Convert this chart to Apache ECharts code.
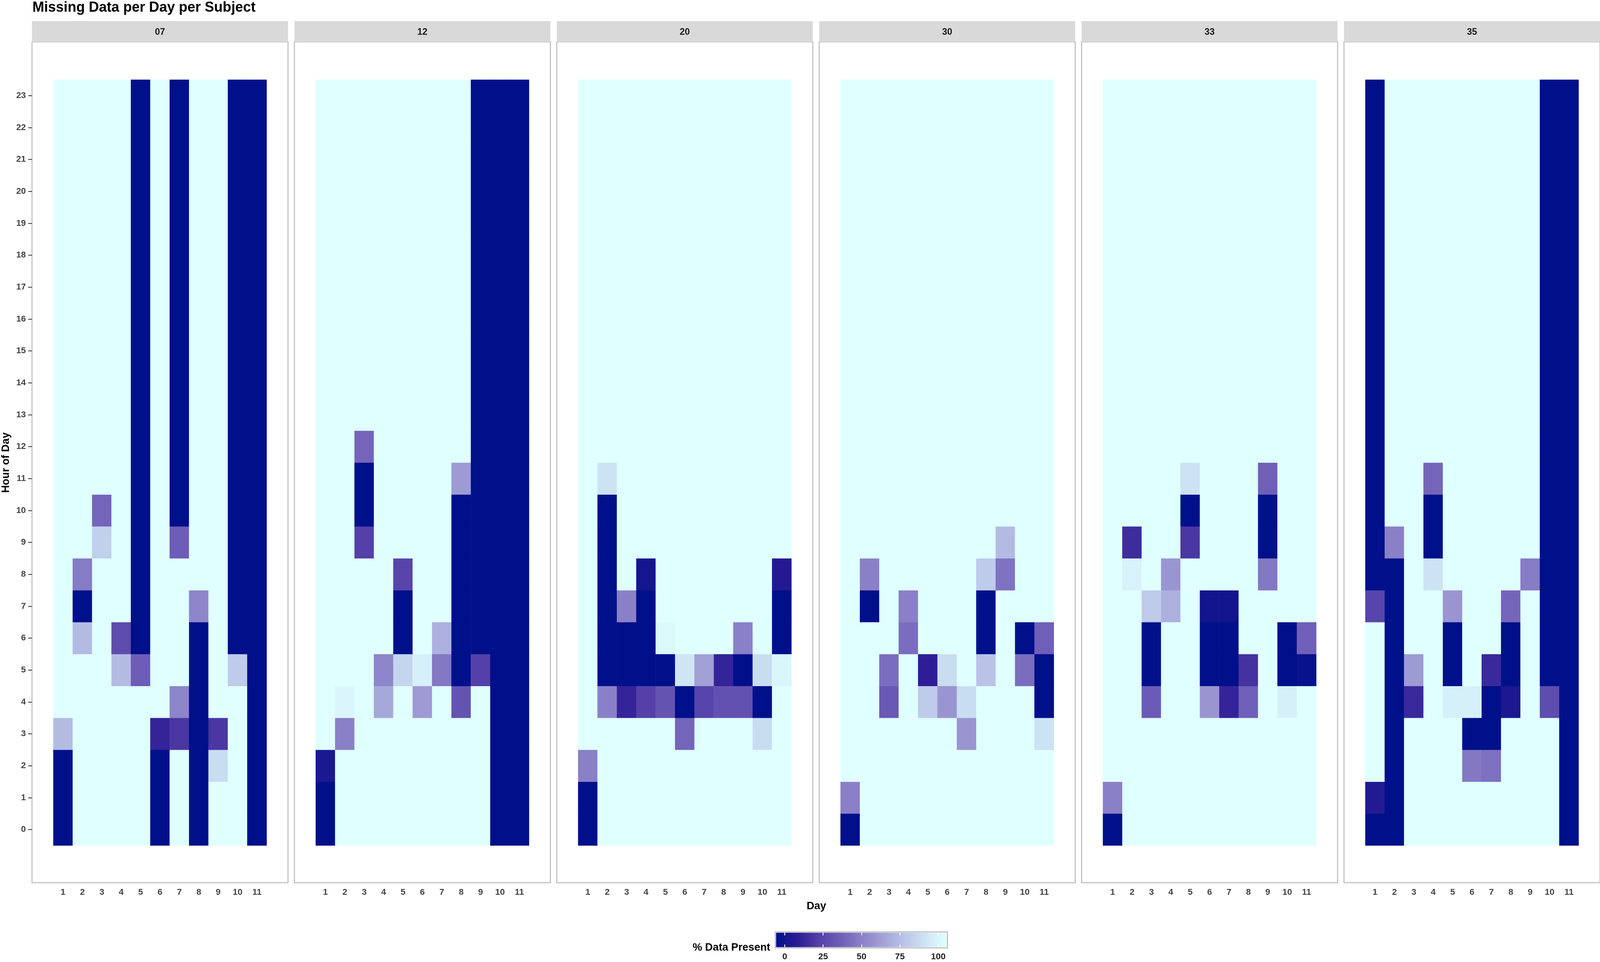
<!DOCTYPE html>
<html><head><meta charset="utf-8">
<script src="https://cdn.jsdelivr.net/npm/echarts@6/dist/echarts.min.js"></script>
<style>html,body{margin:0;padding:0;background:#fff;overflow:hidden}#c{width:100vw;height:100vh}</style>
</head><body><div id="c"></div>
<script>
const subjects = ['07','12','20','30','33','35'];
const days = ['1','2','3','4','5','6','7','8','9','10','11'];
const hours = ['0','1','2','3','4','5','6','7','8','9','10','11','12','13','14','15','16','17','18','19','20','21','22','23'];
const legendTicks = [0,25,50,75,100];

// % data present; each row is one hour (0..23), columns are days 1..11
const s07 = [
[0,100,100,100,100,0,100,0,100,100,0],
[0,100,100,100,100,0,100,0,100,100,0],
[0,100,100,100,100,0,100,0,85,100,0],
[72,100,100,100,100,15,22,0,22,100,0],
[100,100,100,100,100,100,52,0,100,100,0],
[100,100,100,72,37,100,100,0,100,78,0],
[100,72,100,30,0,100,100,0,100,0,0],
[100,0,100,100,0,100,100,52,100,0,0],
[100,48,100,100,0,100,100,100,100,0,0],
[100,100,80,100,0,100,37,100,100,0,0],
[100,100,40,100,0,100,0,100,100,0,0],
[100,100,100,100,0,100,0,100,100,0,0],
[100,100,100,100,0,100,0,100,100,0,0],
[100,100,100,100,0,100,0,100,100,0,0],
[100,100,100,100,0,100,0,100,100,0,0],
[100,100,100,100,0,100,0,100,100,0,0],
[100,100,100,100,0,100,0,100,100,0,0],
[100,100,100,100,0,100,0,100,100,0,0],
[100,100,100,100,0,100,0,100,100,0,0],
[100,100,100,100,0,100,0,100,100,0,0],
[100,100,100,100,0,100,0,100,100,0,0],
[100,100,100,100,0,100,0,100,100,0,0],
[100,100,100,100,0,100,0,100,100,0,0],
[100,100,100,100,0,100,0,100,100,0,0]
];
const s12 = [
[0,100,100,100,100,100,100,100,100,0,0],
[0,100,100,100,100,100,100,100,100,0,0],
[8,100,100,100,100,100,100,100,100,0,0],
[100,50,100,100,100,100,100,100,100,0,0],
[100,96,100,65,100,60,100,33,100,0,0],
[100,100,100,52,82,93,47,0,25,0,0],
[100,100,100,100,0,100,68,0,0,0,0],
[100,100,100,100,0,100,100,0,0,0,0],
[100,100,100,100,27,100,100,0,0,0,0],
[100,100,25,100,100,100,100,0,0,0,0],
[100,100,0,100,100,100,100,0,0,0,0],
[100,100,0,100,100,100,100,60,0,0,0],
[100,100,40,100,100,100,100,100,0,0,0],
[100,100,100,100,100,100,100,100,0,0,0],
[100,100,100,100,100,100,100,100,0,0,0],
[100,100,100,100,100,100,100,100,0,0,0],
[100,100,100,100,100,100,100,100,0,0,0],
[100,100,100,100,100,100,100,100,0,0,0],
[100,100,100,100,100,100,100,100,0,0,0],
[100,100,100,100,100,100,100,100,0,0,0],
[100,100,100,100,100,100,100,100,0,0,0],
[100,100,100,100,100,100,100,100,0,0,0],
[100,100,100,100,100,100,100,100,0,0,0],
[100,100,100,100,100,100,100,100,0,0,0]
];
const s20 = [
[0,100,100,100,100,100,100,100,100,100,100],
[0,100,100,100,100,100,100,100,100,100,100],
[50,100,100,100,100,100,100,100,100,100,100],
[100,100,100,100,100,40,100,100,100,85,100],
[100,50,15,25,33,0,27,32,32,0,100],
[100,0,0,0,0,88,62,15,0,85,96],
[100,0,0,0,97,100,100,100,50,100,0],
[100,0,50,0,100,100,100,100,100,100,0],
[100,0,100,6,100,100,100,100,100,100,10],
[100,0,100,100,100,100,100,100,100,100,100],
[100,0,100,100,100,100,100,100,100,100,100],
[100,87,100,100,100,100,100,100,100,100,100],
[100,100,100,100,100,100,100,100,100,100,100],
[100,100,100,100,100,100,100,100,100,100,100],
[100,100,100,100,100,100,100,100,100,100,100],
[100,100,100,100,100,100,100,100,100,100,100],
[100,100,100,100,100,100,100,100,100,100,100],
[100,100,100,100,100,100,100,100,100,100,100],
[100,100,100,100,100,100,100,100,100,100,100],
[100,100,100,100,100,100,100,100,100,100,100],
[100,100,100,100,100,100,100,100,100,100,100],
[100,100,100,100,100,100,100,100,100,100,100],
[100,100,100,100,100,100,100,100,100,100,100],
[100,100,100,100,100,100,100,100,100,100,100]
];
const s30 = [
[0,100,100,100,100,100,100,100,100,100,100],
[50,100,100,100,100,100,100,100,100,100,100],
[100,100,100,100,100,100,100,100,100,100,100],
[100,100,100,100,100,100,58,100,100,100,87],
[100,100,35,100,78,58,85,100,100,100,0],
[100,100,43,100,13,85,100,75,100,43,0],
[100,100,100,43,100,100,100,0,100,0,38],
[100,0,100,50,100,100,100,0,100,100,100],
[100,50,100,100,100,100,100,78,45,100,100],
[100,100,100,100,100,100,100,100,72,100,100],
[100,100,100,100,100,100,100,100,100,100,100],
[100,100,100,100,100,100,100,100,100,100,100],
[100,100,100,100,100,100,100,100,100,100,100],
[100,100,100,100,100,100,100,100,100,100,100],
[100,100,100,100,100,100,100,100,100,100,100],
[100,100,100,100,100,100,100,100,100,100,100],
[100,100,100,100,100,100,100,100,100,100,100],
[100,100,100,100,100,100,100,100,100,100,100],
[100,100,100,100,100,100,100,100,100,100,100],
[100,100,100,100,100,100,100,100,100,100,100],
[100,100,100,100,100,100,100,100,100,100,100],
[100,100,100,100,100,100,100,100,100,100,100],
[100,100,100,100,100,100,100,100,100,100,100],
[100,100,100,100,100,100,100,100,100,100,100]
];
const s33 = [
[0,100,100,100,100,100,100,100,100,100,100],
[50,100,100,100,100,100,100,100,100,100,100],
[100,100,100,100,100,100,100,100,100,100,100],
[100,100,100,100,100,100,100,100,100,100,100],
[100,100,36,100,100,58,15,38,100,93,100],
[100,100,0,100,100,0,0,20,100,0,2],
[100,100,0,100,100,0,0,100,100,0,38],
[100,100,78,68,100,5,5,100,100,100,100],
[100,94,100,58,100,100,100,100,47,100,100],
[100,18,100,100,22,100,100,100,0,100,100],
[100,100,100,100,0,100,100,100,0,100,100],
[100,100,100,100,87,100,100,100,38,100,100],
[100,100,100,100,100,100,100,100,100,100,100],
[100,100,100,100,100,100,100,100,100,100,100],
[100,100,100,100,100,100,100,100,100,100,100],
[100,100,100,100,100,100,100,100,100,100,100],
[100,100,100,100,100,100,100,100,100,100,100],
[100,100,100,100,100,100,100,100,100,100,100],
[100,100,100,100,100,100,100,100,100,100,100],
[100,100,100,100,100,100,100,100,100,100,100],
[100,100,100,100,100,100,100,100,100,100,100],
[100,100,100,100,100,100,100,100,100,100,100],
[100,100,100,100,100,100,100,100,100,100,100],
[100,100,100,100,100,100,100,100,100,100,100]
];
const s35 = [
[0,0,100,100,100,100,100,100,100,100,0],
[10,0,100,100,100,100,100,100,100,100,0],
[100,0,100,100,100,47,44,100,100,100,0],
[100,0,100,100,100,0,0,100,100,100,0],
[100,0,17,100,93,93,0,8,100,30,0],
[100,0,60,100,0,100,17,0,100,0,0],
[100,0,100,100,0,100,100,0,100,0,0],
[27,0,100,100,58,100,100,40,100,0,0],
[0,0,100,87,100,100,100,100,48,0,0],
[0,50,100,0,100,100,100,100,100,0,0],
[0,100,100,0,100,100,100,100,100,0,0],
[0,100,100,40,100,100,100,100,100,0,0],
[0,100,100,100,100,100,100,100,100,0,0],
[0,100,100,100,100,100,100,100,100,0,0],
[0,100,100,100,100,100,100,100,100,0,0],
[0,100,100,100,100,100,100,100,100,0,0],
[0,100,100,100,100,100,100,100,100,0,0],
[0,100,100,100,100,100,100,100,100,0,0],
[0,100,100,100,100,100,100,100,100,0,0],
[0,100,100,100,100,100,100,100,100,0,0],
[0,100,100,100,100,100,100,100,100,0,0],
[0,100,100,100,100,100,100,100,100,0,0],
[0,100,100,100,100,100,100,100,100,0,0],
[0,100,100,100,100,100,100,100,100,0,0]
];
const subjectRows = [s07, s12, s20, s30, s33, s35];
const colorStops = ['#00108A','#2C1C95','#5440A8','#6E5EB8','#8A80C7','#A3A1D7','#B9C3E7','#CDE4F4','#E0FFFF'];

const FONT = "'Liberation Sans Narrow','Arial Narrow','Liberation Sans',Arial,sans-serif";
const el = document.getElementById('c');
const chart = echarts.init(el, null, {renderer:'canvas'});
// layout is designed for 4200x2462 and scaled to the actual viewport
const VW = el.clientWidth, VH = el.clientHeight;
const sx = VW / 4200, sy = VH / 2462, sf = Math.min(sx, sy);
const X = v => v * sx, Y = v => v * sy, F = v => v * sf;

const grids = [], xAxes = [], yAxes = [], series = [], titles = [];
const hidden = (g) => ({gridIndex:g, type:'value', show:false});

titles.push({text:'Missing Data per Day per Subject', left:X(85), top:Y(2), padding:0,
  textStyle:{fontFamily:FONT, fontSize:F(37), fontWeight:'bold', color:'#000'}});

subjects.forEach((s, i) => {
  const px = 84 + i * 688.8;
  const g0 = grids.length;
  grids.push({left:X(px), top:Y(107), width:X(672), height:Y(2152), show:true, backgroundColor:'#fff', borderColor:'#C4C4C4', borderWidth:3});
  xAxes.push(hidden(g0)); yAxes.push(hidden(g0));
  grids.push({left:X(px), top:Y(54), width:X(672), height:Y(53), show:true, backgroundColor:'#D9D9D9', borderWidth:0});
  xAxes.push(hidden(g0+1)); yAxes.push(hidden(g0+1));
  grids.push({left:X(px+56), top:Y(204), width:X(560), height:Y(1960)});
  xAxes.push({gridIndex:g0+2, type:'category', data:days, offset:Y(95),
    axisLine:{show:false}, splitLine:{show:false},
    axisTick:{alignWithLabel:true, length:Y(9), lineStyle:{color:'#333', width:2}},
    axisLabel:{margin:Y(14), fontSize:F(23), fontWeight:'bold', color:'#444', fontFamily:FONT}});
  yAxes.push({gridIndex:g0+2, type:'category', data:hours, offset:X(56),
    axisLine:{show:false}, splitLine:{show:false},
    axisTick:{show:i===0, alignWithLabel:true, length:X(10), lineStyle:{color:'#333', width:2}},
    axisLabel:{show:i===0, margin:X(16), fontSize:F(23), fontWeight:'bold', color:'#444', fontFamily:FONT},
    name: i===0 ? 'Hour of Day' : '', nameLocation:'middle', nameRotate:90, nameGap:X(54),
    nameTextStyle:{fontFamily:FONT, fontSize:F(28), fontWeight:'bold', color:'#000'}});
  const rows = subjectRows[i];
  const data = [];
  rows.forEach((row, h) => row.forEach((v, d) => data.push([d, h, v])));
  series.push({type:'heatmap', name:s, xAxisIndex:g0+2, yAxisIndex:g0+2, data:data,
    itemStyle:{borderWidth:0}, emphasis:{disabled:true}, progressive:0});
  titles.push({text:s, left:X(px+336), top:Y(71), textAlign:'center', padding:0,
    textStyle:{fontFamily:FONT, fontSize:F(24), fontWeight:'bold', color:'#1A1A1A'}});
});

// colour-bar frame and its tick axis
const gl = grids.length;
grids.push({left:X(2035), top:Y(2385), width:X(452), height:Y(41), show:true, backgroundColor:'transparent', borderColor:'#A8A8A8', borderWidth:2, z:5});
xAxes.push(hidden(gl)); yAxes.push(hidden(gl));
grids.push({left:X(2060), top:Y(2387), width:X(403), height:Y(37)});
xAxes.push({gridIndex:gl+1, type:'value', min:legendTicks[0], max:legendTicks[legendTicks.length-1], interval:25, z:10,
  axisLine:{show:false}, splitLine:{show:false},
  axisTick:{inside:true, length:Y(7), lineStyle:{color:'#fff', width:2}},
  axisLabel:{margin:Y(14), fontSize:F(23), fontWeight:'bold', color:'#222', fontFamily:FONT}});
xAxes.push({gridIndex:gl+1, type:'value', position:'top', min:0, max:100, interval:25, z:10,
  axisLine:{show:false}, splitLine:{show:false}, axisLabel:{show:false},
  axisTick:{inside:true, length:Y(7), lineStyle:{color:'#fff', width:2}}});
yAxes.push(hidden(gl+1));

titles.push({text:'Day', left:X(2143), top:Y(2306), textAlign:'center', padding:0,
  textStyle:{fontFamily:FONT, fontSize:F(28), fontWeight:'bold', color:'#000'}});
titles.push({text:'% Data Present', left:X(2022), top:Y(2412), textAlign:'right', padding:0,
  textStyle:{fontFamily:FONT, fontSize:F(28), fontWeight:'bold', color:'#000'}});

chart.setOption({
  animation:false,
  backgroundColor:'#fff',
  title:titles,
  grid:grids,
  xAxis:xAxes,
  yAxis:yAxes,
  visualMap:{type:'continuous', min:0, max:100, seriesIndex:[0,1,2,3,4,5], orient:'horizontal',
    left:X(2037), top:Y(2387), itemWidth:Y(37), itemHeight:X(448), padding:0, calculable:false, text:null,
    inRange:{color:colorStops}},
  series:series
});
</script></body></html>
